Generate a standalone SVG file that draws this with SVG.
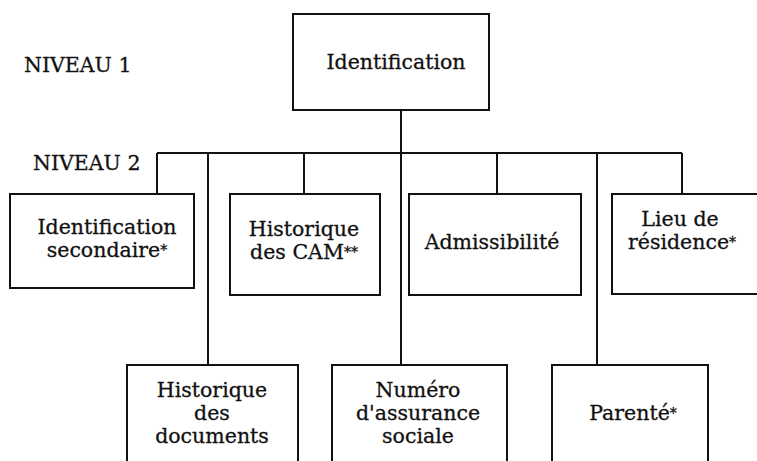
<svg xmlns="http://www.w3.org/2000/svg" width="757" height="461" viewBox="0 0 757 461">
<style>
.box{fill:#fff;stroke:#111;stroke-width:2}
.ln{stroke:#111;stroke-width:2;fill:none}
text{font-family:"DejaVu Serif","Liberation Serif",serif;font-size:20.5px;fill:#111;stroke:#111;stroke-width:0.3}
.c{text-anchor:middle}
.s{font-size:14px}
</style>
<rect width="757" height="461" fill="#fff"/>
<text x="24" y="72">NIVEAU 1</text>
<text x="33" y="170">NIVEAU 2</text>
<g id="connectors">
<path class="ln" d="M401 110V153M157 153H682M157 153V194M208 153V365M304 153V194M401 153V365M497 153V194M597 153V365M682 153V194"/>
</g>
<g id="n-identification">
<rect class="box" x="293" y="14" width="196" height="96"/>
<text class="c" x="396" y="69">Identification</text>
</g>
<g id="n-ident-secondaire">
<rect class="box" x="10" y="194" width="184" height="94"/>
<text class="c" x="107" y="234">Identification</text>
<text class="c" x="107" y="257">secondaire<tspan class="s" dy="-2">*</tspan></text>
</g>
<g id="n-hist-cam">
<rect class="box" x="230" y="194" width="150" height="101"/>
<text class="c" x="304" y="236">Historique</text>
<text class="c" x="304" y="259">des CAM<tspan class="s" dy="-2">**</tspan></text>
</g>
<g id="n-admissibilite">
<rect class="box" x="409" y="194" width="172" height="101"/>
<text class="c" x="492" y="249">Admissibilité</text>
</g>
<g id="n-lieu">
<rect class="box" x="612" y="194" width="150" height="100"/>
<text class="c" x="680" y="226">Lieu de</text>
<text class="c" x="682" y="249">résidence<tspan class="s" dy="-2">*</tspan></text>
</g>
<g id="n-hist-docs">
<rect class="box" x="127" y="365" width="171" height="110"/>
<text class="c" x="212" y="397">Historique</text>
<text class="c" x="212" y="420">des</text>
<text class="c" x="212" y="443">documents</text>
</g>
<g id="n-numero">
<rect class="box" x="332" y="365" width="175" height="110"/>
<text class="c" x="418" y="397">Numéro</text>
<text class="c" x="418" y="420">d'assurance</text>
<text class="c" x="418" y="443">sociale</text>
</g>
<g id="n-parente">
<rect class="box" x="552" y="365" width="156" height="110"/>
<text class="c" x="633" y="420">Parenté<tspan class="s" dy="-2">*</tspan></text>
</g>
</svg>
